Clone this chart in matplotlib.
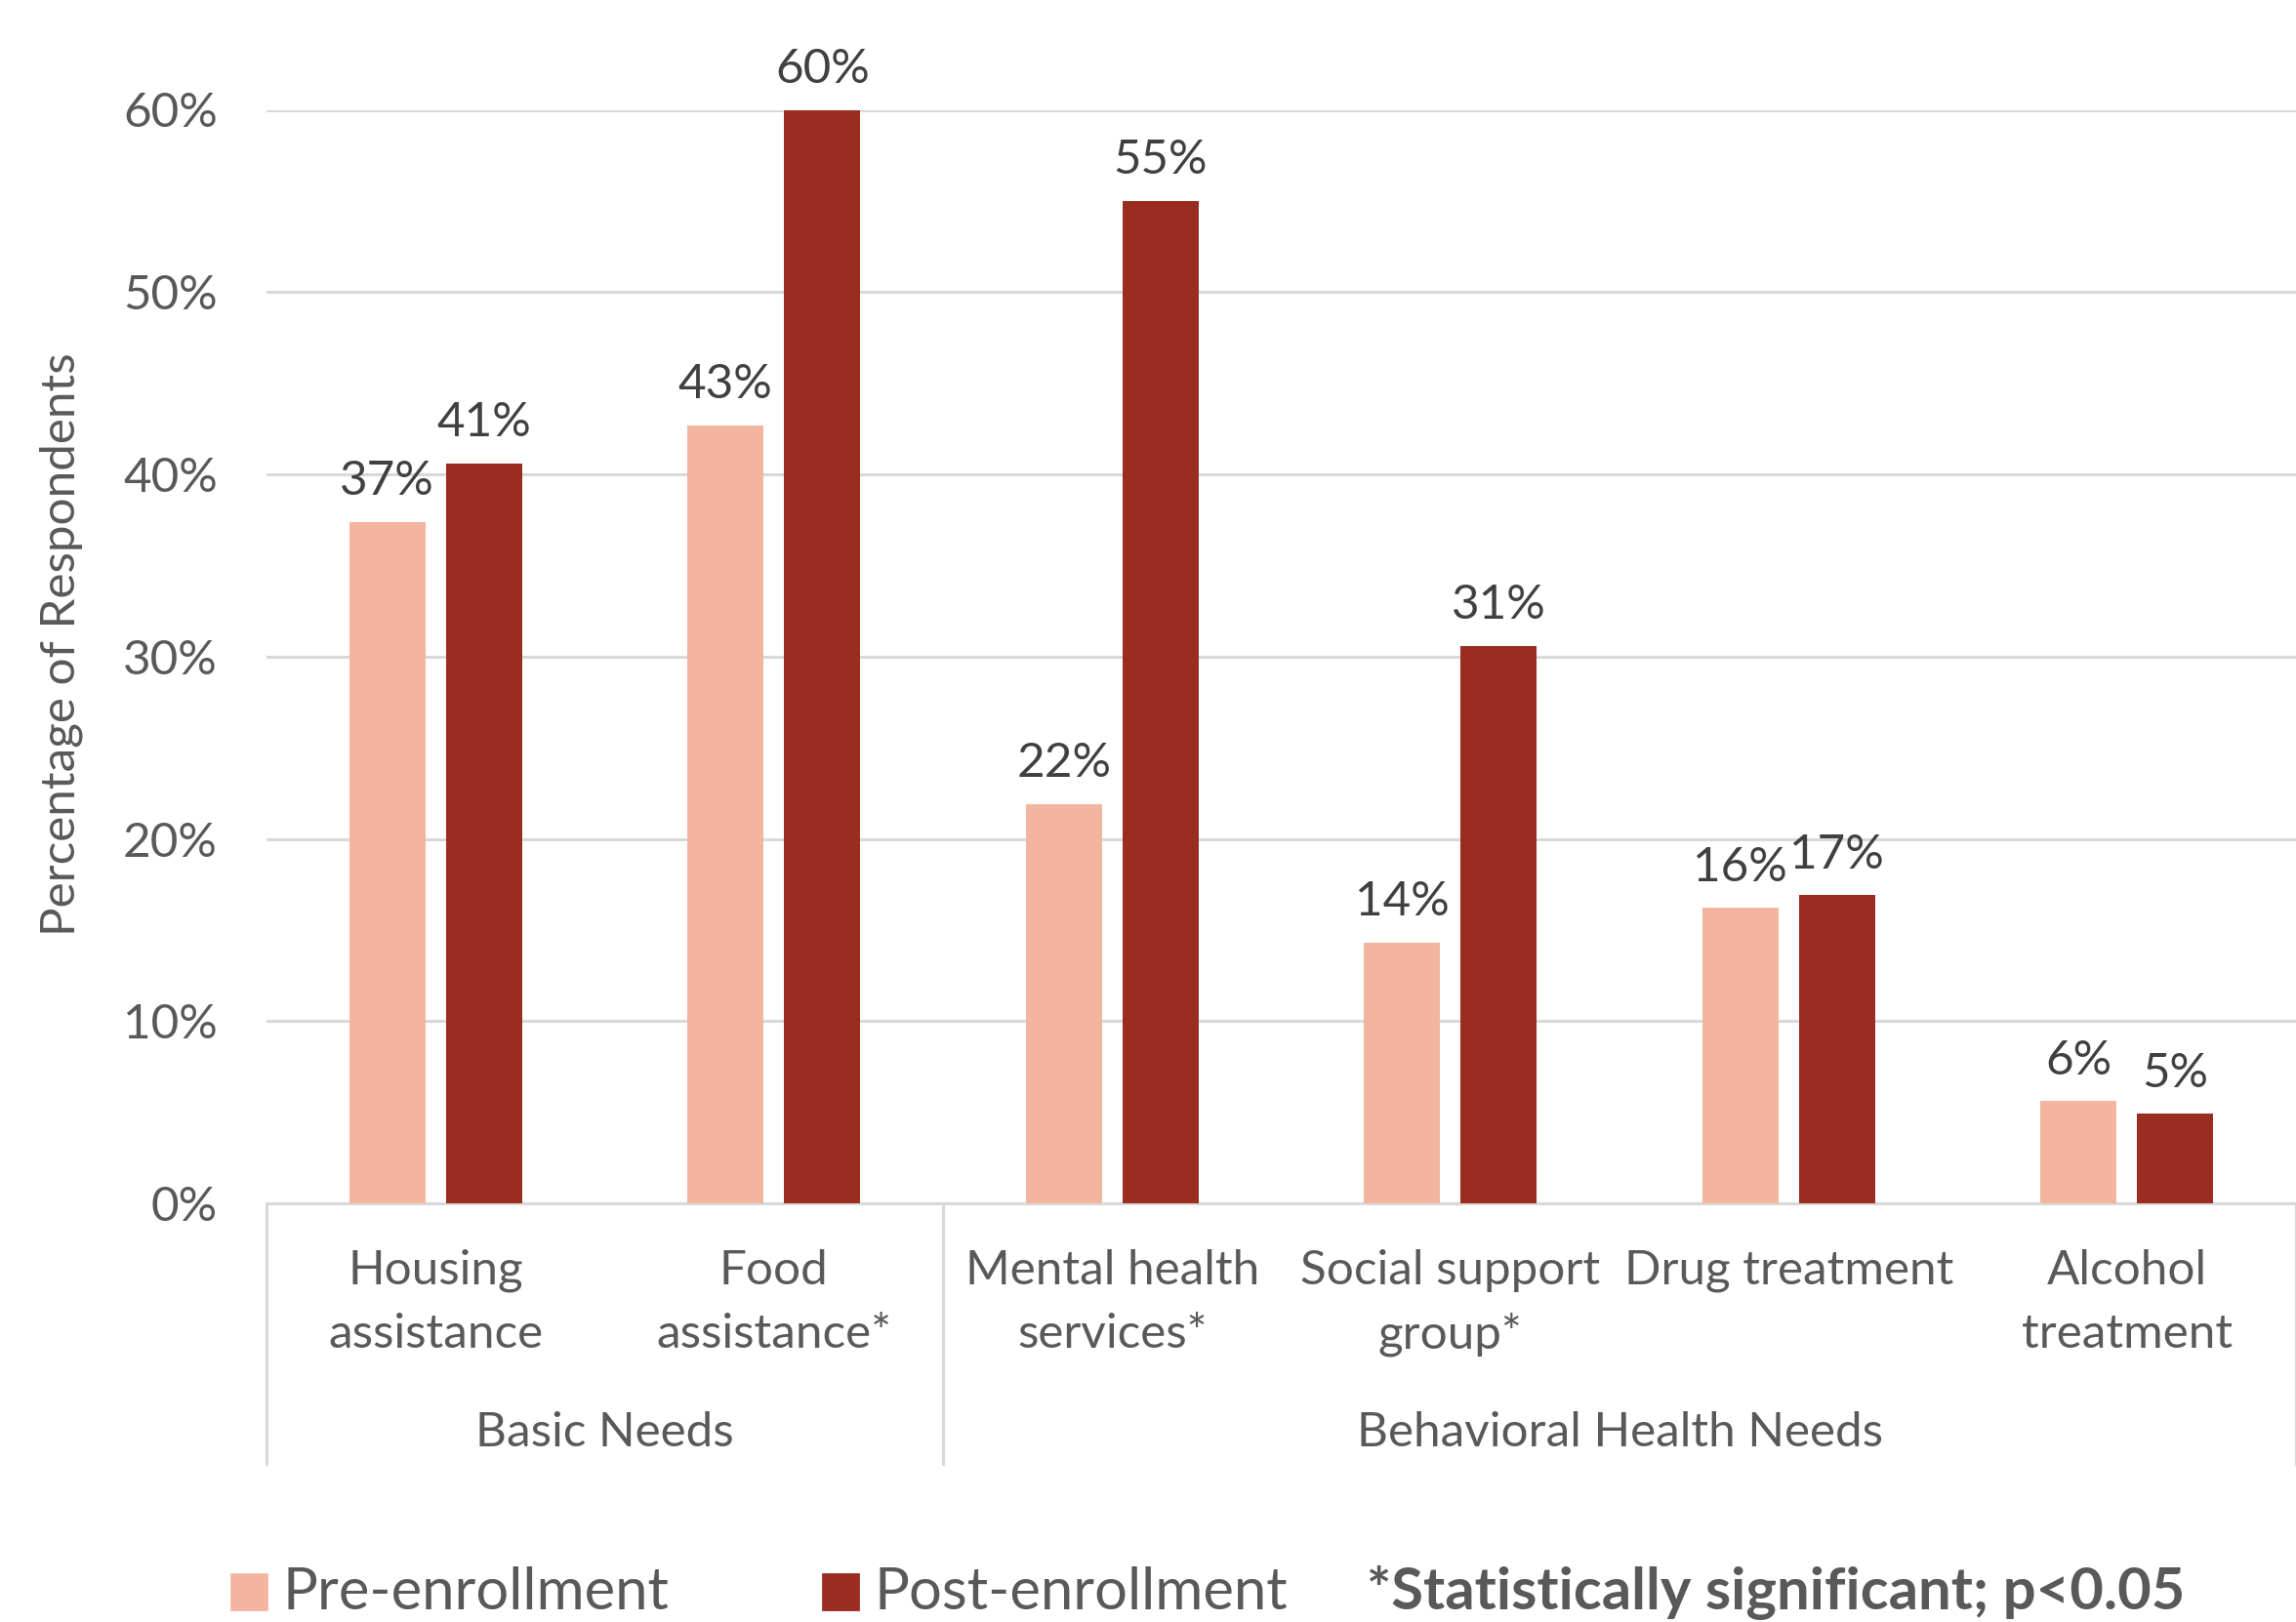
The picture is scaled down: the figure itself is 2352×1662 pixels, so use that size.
import matplotlib
matplotlib.use("Agg")
import matplotlib.pyplot as plt
from matplotlib.patches import Rectangle
import numpy as np

plt.rcParams['font.family'] = ['Lato', 'DejaVu Sans']

categories = ["Housing\nassistance", "Food\nassistance*", "Mental health\nservices*",
              "Social support\ngroup*", "Drug treatment", "Alcohol\ntreatment"]
groups = ["Basic Needs", "Behavioral Health Needs"]
group_sizes = [2, 4]
series_names = ["Pre-enrollment", "Post-enrollment"]
pre_values = [37.4, 42.7, 21.9, 14.3, 16.2, 5.6]
post_values = [40.6, 60.0, 55.0, 30.6, 16.9, 4.9]
yticks = [0, 10, 20, 30, 40, 50, 60]
note = "*Statistically significant; p<0.05"

PRE = "#F4B5A0"
POST = "#9B2C20"
GRID = "#D9D9D9"
TXT = "#595959"
LBL = "#404040"

W, H, DPI = 2352, 1662, 200
fig = plt.figure(figsize=(W / DPI, H / DPI), dpi=DPI)
ax = fig.add_axes([273 / W, 1 - 1233 / H, 1 - 273 / W, (1233 - 112.5) / H])

x = np.arange(len(categories)) + 0.5
bw = 0.225
off = 0.143
b1 = ax.bar(x - off, pre_values, bw, color=PRE, zorder=3)
b2 = ax.bar(x + off, post_values, bw, color=POST, zorder=3)

FS = 17.8
for bars, vals in ((b1, pre_values), (b2, post_values)):
    for r, v in zip(bars, vals):
        ax.annotate(f"{v:.0f}%", (r.get_x() + r.get_width() / 2, v),
                    xytext=(0, 15), textcoords="offset points",
                    ha="center", va="center", fontsize=FS, color=LBL)

ax.set_xlim(0, len(categories))
ax.set_ylim(0, 60)
ax.set_yticks(yticks)
ax.set_yticklabels([f"{t}%" for t in yticks], fontsize=FS, color=TXT)
ax.tick_params(axis="y", length=0, pad=18)
ax.set_xticks([])
ax.grid(axis="y", color=GRID, lw=1.1, zorder=0)
for s in ("top", "right", "left"):
    ax.spines[s].set_visible(False)
ax.spines["bottom"].set_color(GRID)
ax.spines["bottom"].set_linewidth(1.1)

trans = ax.get_xaxis_transform()
ah = (1233 - 112.5)
y1 = -(1302 - 1233) / ah
y2 = -(1367 - 1233) / ah
yg = -(1468 - 1233) / ah
ysep = -(1500 - 1233) / ah
for xi, cat in zip(x, categories):
    lines = cat.split("\n")
    for li, ln in enumerate(lines):
        ax.text(xi, [y1, y2][li], ln, transform=trans, ha="center", va="center",
                fontsize=FS, color=TXT)

start = 0
bounds = [0]
for g, n in zip(groups, group_sizes):
    ax.text(start + n / 2, yg, g, transform=trans, ha="center", va="center",
            fontsize=FS, color=TXT)
    start += n
    bounds.append(start)
for b in bounds:
    ax.plot([b, b], [0, ysep], transform=trans, color=GRID, lw=1.1, clip_on=False)

fig.text(63 / W, 1 - 660 / H, "Percentage of Respondents", rotation=90,
         ha="center", va="center", fontsize=FS, color=TXT)

# legend
LFS = 21.5
base = 1 - 1649 / H
for (sx, tx, col, name) in ((237, 289.5, PRE, series_names[0]), (843, 895.5, POST, series_names[1])):
    fig.patches.append(Rectangle((sx / W, 1 - 1649 / H), 36 / W, 36 / H,
                                 transform=fig.transFigure, color=col))
    fig.text(tx / W, base, name, ha="left", va="baseline", fontsize=LFS, color=TXT)
fig.text(1400 / W, base, note, ha="left", va="baseline", fontsize=LFS,
         color=TXT, fontweight="bold")

fig.savefig("out.png", dpi=DPI)
